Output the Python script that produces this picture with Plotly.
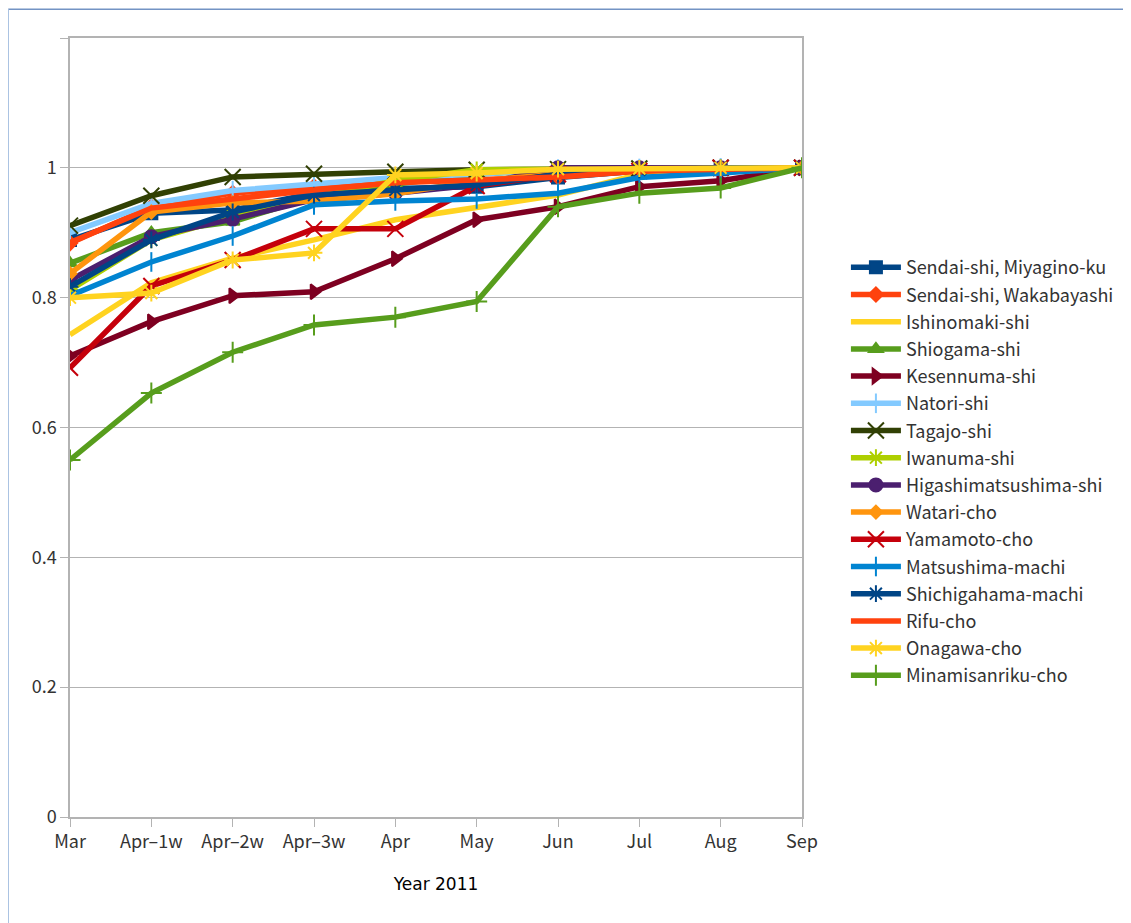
import plotly.graph_objects as go

months = ["Mar", "Apr\u20131w", "Apr\u20132w", "Apr\u20133w", "Apr", "May", "Jun", "Jul", "Aug", "Sep"]

sendai_miyagino = [0.889, 0.930, 0.935, 0.961, 0.968, 0.971, 0.985, 0.995, 0.998, 1.0]
sendai_wakabayashi = [0.884, 0.940, 0.961, 0.971, 0.981, 0.981, 0.986, 0.995, 0.998, 1.0]
ishinomaki = [0.743, 0.823, 0.861, 0.889, 0.920, 0.940, 0.958, 0.990, 0.995, 1.0]
shiogama = [0.853, 0.900, 0.917, 0.955, 0.975, 0.990, 0.998, 0.999, 1.0, 1.0]
kesennuma = [0.710, 0.763, 0.803, 0.809, 0.860, 0.920, 0.940, 0.971, 0.980, 1.0]
natori = [0.900, 0.945, 0.965, 0.975, 0.985, 0.990, 0.998, 0.999, 1.0, 1.0]
tagajo = [0.911, 0.957, 0.986, 0.991, 0.994, 0.997, 0.998, 0.999, 1.0, 1.0]
iwanuma = [0.812, 0.889, 0.925, 0.955, 0.980, 0.997, 0.998, 0.999, 1.0, 1.0]
higashimatsushima = [0.827, 0.894, 0.921, 0.951, 0.961, 0.974, 1.0, 1.0, 1.0, 1.0]
watari = [0.837, 0.932, 0.946, 0.949, 0.960, 0.980, 0.990, 0.995, 1.0, 1.0]
yamamoto = [0.692, 0.818, 0.858, 0.906, 0.906, 0.972, 0.990, 0.995, 1.0, 1.0]
matsushima = [0.803, 0.855, 0.895, 0.943, 0.949, 0.952, 0.961, 0.985, 0.992, 1.0]
shichigahama = [0.817, 0.889, 0.932, 0.958, 0.966, 0.974, 0.990, 0.997, 1.0, 1.0]
rifu = [0.885, 0.938, 0.952, 0.966, 0.977, 0.981, 0.986, 0.995, 0.998, 1.0]
onagawa = [0.800, 0.807, 0.858, 0.869, 0.989, 0.992, 0.998, 0.999, 1.0, 1.0]
minamisanriku = [0.550, 0.653, 0.716, 0.758, 0.770, 0.794, 0.940, 0.961, 0.969, 1.0]

names = ["Sendai-shi, Miyagino-ku", "Sendai-shi, Wakabayashi", "Ishinomaki-shi", "Shiogama-shi",
         "Kesennuma-shi", "Natori-shi", "Tagajo-shi", "Iwanuma-shi", "Higashimatsushima-shi",
         "Watari-cho", "Yamamoto-cho", "Matsushima-machi", "Shichigahama-machi", "Rifu-cho",
         "Onagawa-cho", "Minamisanriku-cho"]
series = [sendai_miyagino, sendai_wakabayashi, ishinomaki, shiogama, kesennuma, natori, tagajo,
          iwanuma, higashimatsushima, watari, yamamoto, matsushima, shichigahama, rifu, onagawa,
          minamisanriku]
colors = ["#004586", "#FF420E", "#FFD320", "#579D1C", "#7E0021", "#83CAFF", "#314004", "#AECF00",
          "#4B1F6F", "#FF950E", "#C5000B", "#0084D1", "#004586", "#FF420E", "#FFD320", "#579D1C"]
symbols = ["square", "diamond", None, "triangle-up", "triangle-right", "line-ns", "x-thin",
           "asterisk", "circle", "diamond", "x-thin", "line-ns", "asterisk", None, "asterisk",
           "cross-thin"]
sizes = [12, 11, 1, 12, 13, 14, 16, 14, 13, 10, 16, 14, 14, 1, 14, 15]

fig = go.Figure()
for i, (name, vals, col, sym, sz) in enumerate(zip(names, series, colors, symbols, sizes)):
    if sym is None:
        mode = "lines"
        marker = dict()
    else:
        mode = "lines+markers"
        marker = dict(symbol=sym, size=sz, color=col, line=dict(color=col, width=2))
    fig.add_trace(go.Scatter(x=months, y=vals, name=name, mode=mode, legendgroup="g%d" % i,
                             line=dict(color=col, width=5.5), marker=marker))

# outer frame lines
fig.add_shape(type="line", xref="paper", yref="paper", x0=-0.0844, x1=1.5, y0=1.037, y1=1.037,
              line=dict(color="#7393C4", width=1.5))
fig.add_shape(type="line", xref="paper", yref="paper", x0=-0.0844, x1=-0.0844, y0=1.037, y1=-0.2,
              line=dict(color="#A9C2E2", width=1.5))

fig.update_layout(
    width=1123, height=915,
    margin=dict(l=62, r=326, t=30, b=106),
    paper_bgcolor="white", plot_bgcolor="white",
    font=dict(family="Noto Sans CJK JP, DejaVu Sans, sans-serif", size=18, color="#333333"),
    showlegend=True,
    legend=dict(x=1.06, y=0.729, xanchor="left", yanchor="top",
                font=dict(size=18, color="#333333"), tracegroupgap=0.8,
                itemwidth=50, bgcolor="rgba(0,0,0,0)"),
    xaxis=dict(type="category", range=[0, 9], showgrid=False, showline=True, mirror=True,
               linecolor="#B3B3B3", linewidth=1.5, ticks="outside", ticklen=8,
               tickcolor="#B3B3B3", tickfont=dict(size=18, color="#333333"),
               title=dict(text="Year 2011", font=dict(size=17, color="#000000",
                          family="DejaVu Sans, sans-serif"), standoff=26)),
    yaxis=dict(range=[0, 1.2], tickvals=[0, 0.2, 0.4, 0.6, 0.8, 1.0, 1.2],
               ticktext=["0", "0.2", "0.4", "0.6", "0.8", "1", ""],
               showgrid=True, gridcolor="#B3B3B3", gridwidth=1, zeroline=False,
               showline=True, mirror=True, linecolor="#B3B3B3", linewidth=1.5,
               ticks="outside", ticklen=8, tickcolor="#B3B3B3",
               tickfont=dict(size=18, color="#333333")),
)

fig.write_html("out.html")
